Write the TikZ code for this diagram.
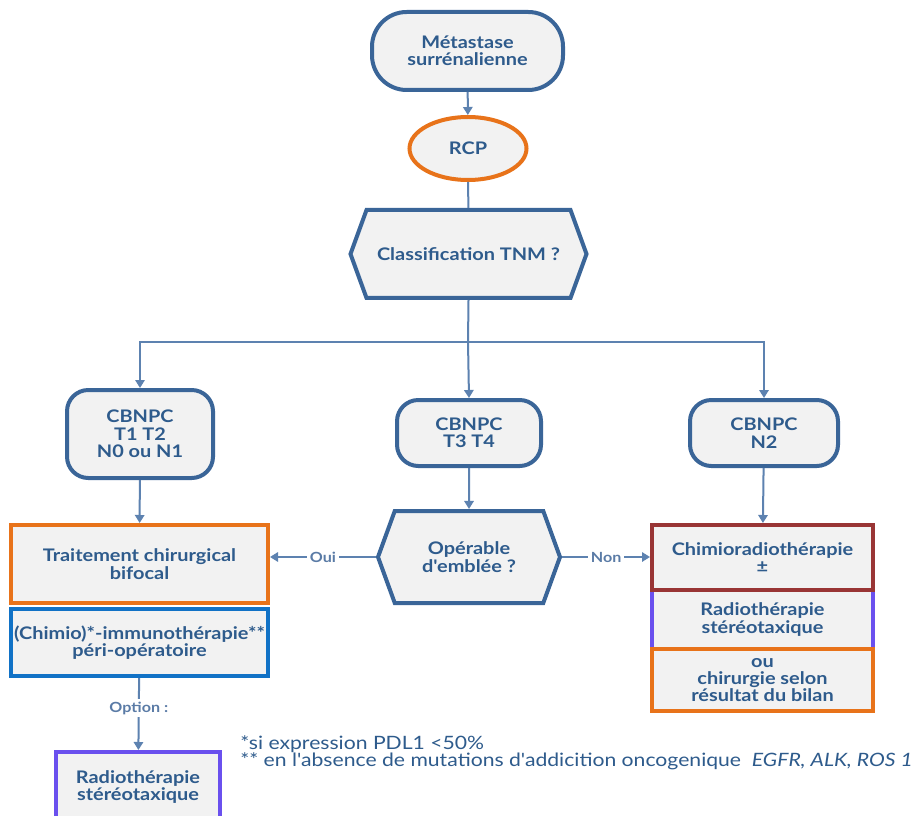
\documentclass[tikz,border=0pt]{standalone}
\usepackage{fontspec}
\setmainfont{Lato}[FakeStretch=1.15, Ligatures=TeXOff]
\usetikzlibrary{arrows.meta,shapes.geometric,shapes.symbols}
\definecolor{fillgrey}{HTML}{F2F2F2}
\definecolor{borderblue}{HTML}{3A6598}
\definecolor{textblue}{HTML}{2E5B8C}
\definecolor{conncol}{HTML}{5D82B0}
\definecolor{lblcol}{HTML}{5A7BA6}
\definecolor{orangeb}{HTML}{E8731A}
\definecolor{blueb}{HTML}{1172C6}
\definecolor{redb}{HTML}{993535}
\definecolor{purpleb}{HTML}{6A50EE}
\begin{document}
\begin{tikzpicture}[x=0.75pt,y=-0.75pt,
  box/.style={draw=borderblue, line width=3pt, fill=fillgrey, text=textblue,
    font=\bfseries\fontsize{13}{13}\selectfont, align=center, inner sep=0pt},
  hexa/.style={box, shape=signal, signal to=west and east, signal pointer angle=140},
  conn/.style={draw=conncol, line width=1.5pt},
  arr/.style={conn, -{Triangle[length=6pt,width=7pt]}},
  lbl/.style={fill=white, text=lblcol, font=\bfseries\fontsize{10.5}{11}\selectfont, inner sep=2pt}
]
\clip (0,0) rectangle (913,816);
\fill[white] (0,0) rectangle (913,816);

\node[box, rounded corners=26pt, minimum width=143.25pt, minimum height=58.5pt] (top) at (467.5,51) {Métastase\\surrénalienne};
\node[box, ellipse, draw=orangeb, minimum width=87.75pt, minimum height=47.25pt] (rcp) at (468,148.5) {RCP};
\node[hexa, minimum width=177pt, minimum height=66pt] (tnm) at (468.5,254) {Classification TNM ?};

\node[box, rounded corners=16pt, minimum width=109.5pt, minimum height=66pt] (c1) at (140,434) {CBNPC\\T1 T2\\N0 ou N1};
\node[box, rounded corners=16pt, minimum width=108pt, minimum height=49.5pt] (c2) at (469,433) {CBNPC\\T3 T4};
\node[box, rounded corners=16pt, minimum width=111pt, minimum height=49.5pt] (c3) at (764,433) {CBNPC\\N2};

\node[box, draw=orangeb, minimum width=192.75pt, minimum height=58.5pt] (trait) at (139.5,564) {Traitement chirurgical\\bifocal};
\node[box, draw=blueb, minimum width=192.75pt, minimum height=50.25pt] (chimio) at (139.5,642.5) {(Chimio)*-immunothérapie**\\péri-opératoire};
\node[box, draw=purpleb, minimum width=123pt, minimum height=52.5pt] (rs1) at (138,787) {Radiothérapie\\stéréotaxique};

\node[hexa, minimum width=136.5pt, minimum height=69pt] (op) at (469,557) {Opérable\\d'emblée ?};

\node[box, draw=purpleb, minimum width=165.75pt, minimum height=44.25pt] (rs2) at (762.5,619.5) {Radiothérapie\\stéréotaxique};
\node[box, draw=orangeb, minimum width=165.75pt, minimum height=46.5pt] (chir) at (762.5,680) {ou\\chirurgie selon\\résultat du bilan};
\node[box, draw=redb, minimum width=165.75pt, minimum height=48.75pt] (crt) at (762.5,557.5) {Chimioradiothérapie\\±};

\coordinate (split) at (468,342);
\draw[arr] (top) -- (rcp);
\draw[conn] (rcp) -- (tnm);
\draw[conn] (tnm.south) -- (split);
\draw[arr] (split) -| (c1.north);
\draw[arr] (split) -| (c3.north);
\draw[arr] (split) -- (c2.north);
\draw[arr] (c1) -- (trait);
\draw[arr] (c2) -- (op);
\draw[arr] (c3) -- (crt);
\draw[arr] (op.west) -- node[lbl]{Oui} (trait.east |- op.west);
\draw[arr] (op.east) -- node[lbl]{Non} (crt.west |- op.east);
\draw[arr] (chimio) -- node[lbl, pos=0.42]{Option :} (rs1);

\node[anchor=north west, align=left, text=textblue, inner sep=0pt,
  font=\fontsize{13.8}{13}\selectfont] (foot) at (240,735)
  {*si expression PDL1 <50\%\\** en l'absence de mutations d'addicition oncogenique \ \textit{EGFR, ALK, ROS 1}};
\end{tikzpicture}
\end{document}
